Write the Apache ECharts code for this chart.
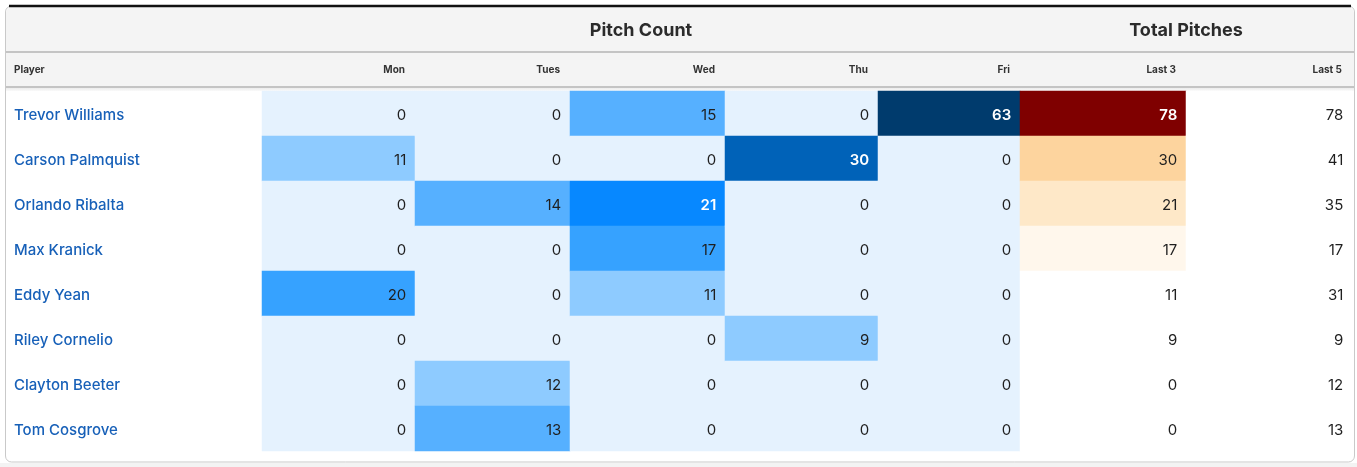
<!DOCTYPE html>
<html>
<head>
<meta charset="utf-8">
<script src="https://cdn.jsdelivr.net/npm/echarts@6/dist/echarts.min.js"></script>
<style>
html,body{margin:0;padding:0;background:#fff;}
#main{width:1357px;height:467px;}
</style>
</head>
<body>
<div id="main"></div>
<script>
// ---- data ----
const players = ['Trevor Williams','Carson Palmquist','Orlando Ribalta','Max Kranick','Eddy Yean','Riley Cornelio','Clayton Beeter','Tom Cosgrove'];
const columns = ['Mon','Tues','Wed','Thu','Fri','Last 3','Last 5'];
const mon   = [0, 11, 0, 0, 20, 0, 0, 0];
const tues  = [0, 0, 14, 0, 0, 0, 12, 13];
const wed   = [15, 0, 21, 17, 11, 0, 0, 0];
const thu   = [0, 30, 0, 0, 0, 9, 0, 0];
const fri   = [63, 0, 0, 0, 0, 0, 0, 0];
const last3 = [78, 30, 21, 17, 11, 9, 0, 0];
const last5 = [78, 41, 35, 17, 31, 9, 12, 13];
const groupHeaders = ['Pitch Count', 'Total Pitches'];

const colValues = [mon, tues, wed, thu, fri, last3, last5];

// ---- layout ----
const colEdges = [262, 415, 570, 725, 878, 1020, 1186, 1352];
const gridTop = 91, rowH = 45;
const FONT = 'Inter, "Open Sans", sans-serif';

const chart = echarts.init(document.getElementById('main'), null, {renderer:'canvas'});

const whiteFrom = [21, 21, 21, 21, 21, 35, Infinity];

const grids = [], xAxes = [], yAxes = [], series = [];
columns.forEach((name, c) => {
  grids.push({left: colEdges[c], top: gridTop, width: colEdges[c+1]-colEdges[c], height: rowH*players.length, containLabel:false});
  xAxes.push({
    type:'category', gridIndex:c, data:[name], position:'top', offset:21,
    axisLine:{show:false}, axisTick:{show:false}, axisLabel:{show:false}, splitLine:{show:false},
    name:name, nameLocation:'end', nameGap:-10,
    nameTextStyle:{align:'right', verticalAlign:'middle', fontFamily:FONT, fontSize:10, fontWeight:'bold', color:'#333'}
  });
  yAxes.push({
    type:'category', gridIndex:c, data:players, inverse:true,
    axisLine:{show:false}, axisTick:{show:false}, splitLine:{show:false}, axisLabel:{show:false}
  });
  series.push({
    type:'heatmap', xAxisIndex:c, yAxisIndex:c,
    data: colValues[c].map((v,i) => ({value:[0,i,v], label:{color: v>=whiteFrom[c] ? '#ffffff' : '#1f1f1f', fontWeight: v>=whiteFrom[c] ? 600 : 400}})),
    label:{show:true, position:'insideRight', distance:9, offset:[0,2], fontFamily:FONT, fontSize:15, formatter:p=>p.value[2]},
    itemStyle:{borderWidth:0},
    emphasis:{disabled:true}
  });
});

// player-name axis (label-only grid, nudged down 2px to match baseline)
grids.push({left: colEdges[0], top: gridTop+2, width: 1, height: rowH*players.length, containLabel:false});
xAxes.push({type:'category', gridIndex:columns.length, data:[''], show:false});
yAxes.push({
  type:'category', gridIndex:columns.length, data:players, inverse:true,
  axisLine:{show:false}, axisTick:{show:false}, splitLine:{show:false},
  axisLabel:{show:true, align:'left', margin:248, fontFamily:FONT, fontSize:15, fontWeight:500, color:'#1760b8'}
});

const option = {
  backgroundColor:'#ffffff',
  animation:false,
  grid: grids, xAxis: xAxes, yAxis: yAxes, series: series,
  visualMap:[
    {type:'piecewise', show:false, seriesIndex:[0,1,2,3,4], dimension:2,
     pieces:[
       {min:0,max:0,color:'#e5f2fe'},
       {gt:0,lte:12,color:'#8ecbff'},
       {gt:12,lte:16,color:'#56b0ff'},
       {gt:16,lte:20,color:'#36a2ff'},
       {gt:20,lte:25,color:'#0788ff'},
       {gt:25,lte:45,color:'#0062b8'},
       {gt:45,color:'#003b6d'}
     ]},
    {type:'piecewise', show:false, seriesIndex:5, dimension:2,
     pieces:[
       {lte:15,color:'#ffffff'},
       {gt:15,lte:20,color:'#fff7ec'},
       {gt:20,lte:25,color:'#fee8c8'},
       {gt:25,lte:35,color:'#fdd49e'},
       {gt:35,color:'#7f0000'}
     ]},
    {type:'piecewise', show:false, seriesIndex:6, dimension:2,
     pieces:[{min:-1,max:1000,color:'#ffffff'}]}
  ],
  graphic:[
    {type:'rect', z:-10, silent:true, shape:{x:0,y:463,width:1357,height:4}, style:{fill:'#f3f3f3'}},
    {type:'rect', z:-5, silent:true, shape:{x:5.5,y:6,width:1349,height:456,r:6}, style:{fill:'#ffffff', stroke:'#c9c9c9', lineWidth:1}},
    {type:'rect', z:-4, silent:true, shape:{x:6,y:7,width:1348,height:81,r:[6,6,0,0]}, style:{fill:'#f4f4f4'}},
    {type:'rect', z:-3, silent:true, shape:{x:6,y:88,width:1348,height:3},
      style:{fill:new echarts.graphic.LinearGradient(0,0,0,1,[{offset:0,color:'#ececec'},{offset:1,color:'#fafafa'}])}},
    {type:'line', z:-2, silent:true, shape:{x1:9,y1:6,x2:1351,y2:6}, style:{stroke:'#111111', lineWidth:2.5}},
    {type:'line', z:-2, silent:true, shape:{x1:6,y1:52,x2:1354,y2:52}, style:{stroke:'#c4c4c4', lineWidth:2}},
    {type:'line', z:-2, silent:true, shape:{x1:6,y1:87,x2:1354,y2:87}, style:{stroke:'#c4c4c4', lineWidth:2}},
    {type:'text', silent:true, x:14, y:70, style:{text:'Player', fontFamily:FONT, fontSize:10, fontWeight:'bold', fill:'#333', verticalAlign:'middle'}},
    {type:'text', silent:true, x:(colEdges[0]+colEdges[5])/2, y:31, style:{text:groupHeaders[0], fontFamily:FONT, fontSize:18, fontWeight:'bold', fill:'#2b2b2b', align:'center', verticalAlign:'middle'}},
    {type:'text', silent:true, x:(colEdges[5]+colEdges[7])/2, y:31, style:{text:groupHeaders[1], fontFamily:FONT, fontSize:18, fontWeight:'bold', fill:'#2b2b2b', align:'center', verticalAlign:'middle'}}
  ]
};
chart.setOption(option);
</script>
</body>
</html>
